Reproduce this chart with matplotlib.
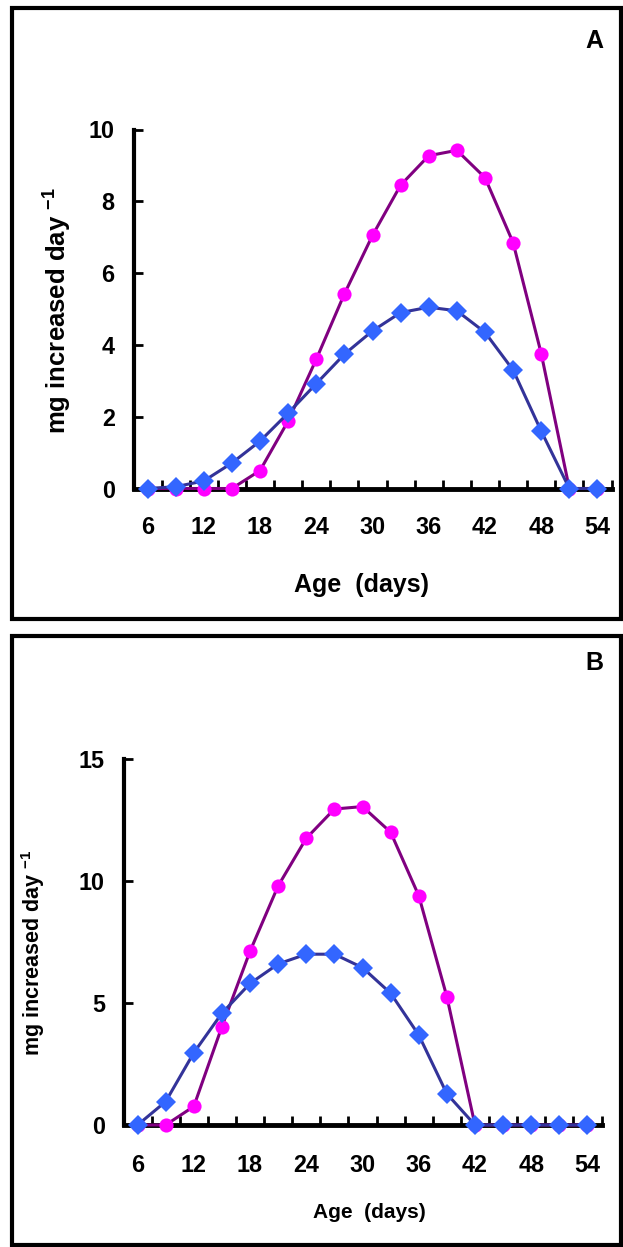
import matplotlib
matplotlib.use('Agg')
import matplotlib.pyplot as plt
from matplotlib.patches import Rectangle
from matplotlib.ticker import FixedLocator

plt.rcParams['font.family'] = ['Liberation Sans', 'DejaVu Sans']
plt.rcParams['font.weight'] = 'bold'
plt.rcParams['mathtext.fontset'] = 'custom'
plt.rcParams['mathtext.rm'] = 'Liberation Sans:bold'
plt.rcParams['mathtext.bf'] = 'Liberation Sans:bold'

# ---------------- data ----------------
age = [6, 9, 12, 15, 18, 21, 24, 27, 30, 33, 36, 39, 42, 45, 48, 51, 54]
x_label_ticks = [6, 12, 18, 24, 30, 36, 42, 48, 54]
x_tick_labels = ['6', '12', '18', '24', '30', '36', '42', '48', '54']

a_circle = [0, 0, 0, 0, 0.5, 1.88, 3.6, 5.42, 7.05, 8.45, 9.27, 9.42, 8.66, 6.85, 3.76, 0, 0]
a_diamond = [0, 0.05, 0.21, 0.71, 1.32, 2.1, 2.92, 3.74, 4.39, 4.9, 5.05, 4.95, 4.35, 3.3, 1.6, 0, 0]
a_yticks = [0, 2, 4, 6, 8, 10]

b_circle = [0, 0, 0.76, 4.03, 7.12, 9.8, 11.75, 12.95, 13.05, 12.0, 9.4, 5.26, 0, 0, 0, 0, 0]
b_diamond = [0, 0.96, 2.96, 4.58, 5.8, 6.6, 7.0, 7.0, 6.45, 5.4, 3.69, 1.28, 0, 0, 0, 0, 0]
b_yticks = [0, 5, 10, 15]

ylabel_text = r'mg increased day $^{-1}$'
xlabel_text = 'Age  (days)'

# ---------------- figure ----------------
W, H = 623, 1247
fig = plt.figure(figsize=(W / 100, H / 100), dpi=100)
fig.patch.set_facecolor('white')


def fx(px):
    return px / W


def fy(py):
    return 1 - py / H


# panel frames
for (top, bot) in [(8, 619), (636, 1244.5)]:
    fig.add_artist(Rectangle((fx(12), fy(bot)), fx(620.5) - fx(12), fy(top) - fy(bot),
                             transform=fig.transFigure, fill=False, lw=3.0, ec='black'))


def panel(rect, circ, diam, yticks, ytop, xpad, xl_fs, xl_pos):
    ax = fig.add_axes(rect)
    ax.plot(age, circ, color='#800080', lw=2.2, marker='o', ms=10.2,
            mfc='#FF00FF', mec='#FF00FF', mew=0, clip_on=False, zorder=3)
    ax.plot(age, diam, color='#333399', lw=2.2, marker='D', ms=10.0,
            mfc='#3366FF', mec='#3366FF', mew=0, clip_on=False, zorder=4)
    ax.set_xlim(4.5, 55.5)
    ax.set_ylim(0, ytop)
    for s in ['top', 'right']:
        ax.spines[s].set_visible(False)
    ax.spines['left'].set_linewidth(3.0)
    ax.spines['bottom'].set_linewidth(3.5)
    ax.xaxis.set_major_locator(FixedLocator(x_label_ticks))
    ax.set_xticklabels(x_tick_labels)
    ax.xaxis.set_minor_locator(FixedLocator([4.5 + 3 * k for k in range(18)]))
    ax.tick_params(axis='x', which='major', length=0, pad=xpad, labelsize=16.8)
    ax.tick_params(axis='x', which='minor', direction='in', length=6.5, width=2.0)
    ax.set_yticks(yticks)
    ax.set_yticklabels([str(v) for v in yticks])
    ax.tick_params(axis='y', direction='in', length=6.5, width=2.0, pad=13.5,
                   labelsize=16.8)
    ax.set_xlabel(xlabel_text, fontsize=xl_fs, fontweight='bold', va='center')
    ax.xaxis.set_label_coords(*xl_pos)
    ax.set_facecolor('none')
    return ax


a_bot, a_top = 488.5, 129.5
b_bot, b_top = 1125.0, 759.0
axA = panel([fx(133.5), fy(a_bot), fx(478), (a_bot - a_top) / H], a_circle, a_diamond,
            a_yticks, 10, 19.5, 18, ((361 - 133.5) / 478, (a_bot - 585) / (a_bot - a_top)))
axB = panel([fx(123.5), fy(b_bot), fx(478), (b_bot - b_top) / H], b_circle, b_diamond,
            b_yticks, 15, 21, 15, ((369 - 123.5) / 478, (b_bot - 1212.5) / (b_bot - b_top)))

fig.text(fx(57), fy(310.5), ylabel_text, rotation=90, fontsize=18.5, fontweight='bold',
         ha='center', va='center')
fig.text(fx(33), fy(953), ylabel_text, rotation=90, fontsize=15.5, fontweight='bold',
         ha='center', va='center')

fig.text(fx(594), fy(41), 'A', fontsize=18, fontweight='bold', ha='center', va='center')
fig.text(fx(594), fy(663), 'B', fontsize=18, fontweight='bold', ha='center', va='center')

fig.savefig('out.png', dpi=100, facecolor='white')
